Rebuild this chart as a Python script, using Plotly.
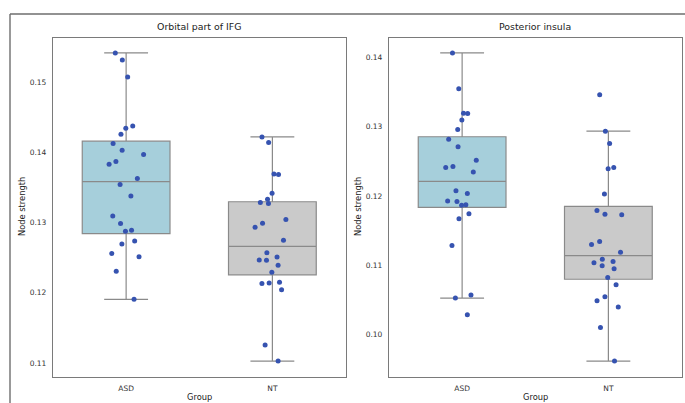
import numpy as np
import plotly.graph_objects as go

groups = ["ASD", "NT"]
panel_titles = ["Orbital part of IFG", "Posterior insula"]

ifg_asd = [0.15418, 0.15318, 0.15076, 0.14378, 0.14345, 0.14259, 0.14127, 0.14031,
           0.13970, 0.13870, 0.13832, 0.13628, 0.13542, 0.13380, 0.13095, 0.12987,
           0.12891, 0.12877, 0.12739, 0.12696, 0.12559, 0.12516, 0.12307, 0.11908]
ifg_nt = [0.14221, 0.14141, 0.13693, 0.13685, 0.13418, 0.13333, 0.13286, 0.13272,
          0.13044, 0.12991, 0.12934, 0.12749, 0.12573, 0.12511, 0.12468, 0.12465,
          0.12392, 0.12293, 0.12150, 0.12140, 0.12132, 0.12046, 0.11257, 0.11028]
ins_asd = [0.14066, 0.13547, 0.13196, 0.13190, 0.13095, 0.12960, 0.12820, 0.12709,
           0.12517, 0.12426, 0.12412, 0.12344, 0.12074, 0.12036, 0.11925, 0.11920,
           0.11871, 0.11867, 0.11742, 0.11669, 0.11285, 0.10568, 0.10524, 0.10283]
ins_nt = [0.13460, 0.12936, 0.12758, 0.12412, 0.12391, 0.12026, 0.11791, 0.11737,
          0.11727, 0.11343, 0.11300, 0.11188, 0.11087, 0.11054, 0.11034, 0.10991,
          0.10947, 0.10823, 0.10716, 0.10543, 0.10485, 0.10394, 0.10101, 0.09614]

panels = [[ifg_asd, ifg_nt], [ins_asd, ins_nt]]
fills = ["#a6cfdb", "#cacaca"]
line_col = "#8a8a8a"
dot_col = "#3653b0"
FONT = "DejaVu Sans"

W, H = 685, 403
def px(x):
    return x / W
def py(y):
    return (H - y) / H

x_domains = [[px(53), px(345.5)], [px(389), px(681.5)]]
y_domain = [py(376.5), py(37.5)]

fig = go.Figure()

def stats(v):
    a = np.asarray(v)
    q1, med, q3 = np.percentile(a, [25, 50, 75])
    iqr = q3 - q1
    up = a[a <= q3 + 1.5 * iqr].max()
    lo = a[a >= q1 - 1.5 * iqr].min()
    return q1, med, q3, lo, up

for p, data in enumerate(panels):
    xa = "x" if p == 0 else "x2"
    ya = "y" if p == 0 else "y2"
    for g, vals in enumerate(data):
        q1, med, q3, lo, up = stats(vals)
        fig.add_trace(go.Box(
            x=[groups[g]], q1=[q1], median=[med], q3=[q3],
            lowerfence=[lo], upperfence=[up],
            fillcolor=fills[g], line=dict(color=line_col, width=1.2),
            width=0.6, whiskerwidth=0.5, boxpoints=False,
            xaxis=xa, yaxis=ya, showlegend=False))
    for g, vals in enumerate(data):
        fig.add_trace(go.Box(
            x=[groups[g]] * len(vals), y=vals,
            boxpoints="all", jitter=0.45, pointpos=0,
            fillcolor="rgba(0,0,0,0)", line=dict(color="rgba(0,0,0,0)", width=0),
            marker=dict(color=dot_col, size=5),
            width=0.6, hoveron="points",
            xaxis=xa, yaxis=ya, showlegend=False))

axis_common = dict(
    showline=True, mirror=True, linecolor="#7a7a7a", linewidth=1.2,
    showgrid=False, zeroline=False,
    ticks="outside", ticklen=4, tickcolor="rgba(0,0,0,0)",
    tickfont=dict(family=FONT, size=7.5, color="#333333"),
)

layout = dict(
    width=W, height=H, margin=dict(l=0, r=0, t=0, b=0),
    paper_bgcolor="white", plot_bgcolor="white",
    boxmode="overlay", showlegend=False,
)
for p, data in enumerate(panels):
    allv = np.concatenate([np.asarray(d) for d in data])
    lo, hi = allv.min(), allv.max()
    pad = 0.05 * (hi - lo)
    sx = "" if p == 0 else "2"
    layout["xaxis" + sx] = dict(axis_common, domain=x_domains[p], type="category",
                                categoryorder="array", categoryarray=groups,
                                range=[-0.5, 1.5], anchor="y" + sx)
    layout["yaxis" + sx] = dict(axis_common, domain=y_domain, range=[lo - pad, hi + pad],
                                dtick=0.01, tickformat=".2f", anchor="x" + sx)
fig.update_layout(**layout)

annotations = []
for p in range(2):
    cx = (x_domains[p][0] + x_domains[p][1]) / 2
    annotations.append(dict(text=panel_titles[p], x=cx, y=py(26), xref="paper", yref="paper",
                            showarrow=False, xanchor="center", yanchor="middle",
                            font=dict(family=FONT, size=9.4, color="#222222")))
    annotations.append(dict(text="Group", x=cx, y=py(396.5), xref="paper", yref="paper",
                            showarrow=False, xanchor="center", yanchor="middle",
                            font=dict(family=FONT, size=8.3, color="#222222")))
    ytx = 22 if p == 0 else 358
    annotations.append(dict(text="Node strength", x=px(ytx), y=py(207), xref="paper", yref="paper",
                            showarrow=False, xanchor="center", yanchor="middle", textangle=-90,
                            font=dict(family=FONT, size=8.3, color="#222222")))
fig.update_layout(annotations=annotations)

# outer figure frame (top and left edges visible in the reference)
fig.add_shape(type="line", xref="paper", yref="paper", x0=px(10), x1=1.01, y0=py(14), y1=py(14),
              line=dict(color="#6e6e6e", width=1.4))
fig.add_shape(type="line", xref="paper", yref="paper", x0=px(10), x1=px(10), y0=py(14), y1=-0.01,
              line=dict(color="#6e6e6e", width=1.4))

fig.write_html("out.html", config={"displayModeBar": False},
               post_script="document.body.style.margin='0px';document.body.style.overflow='hidden';")
